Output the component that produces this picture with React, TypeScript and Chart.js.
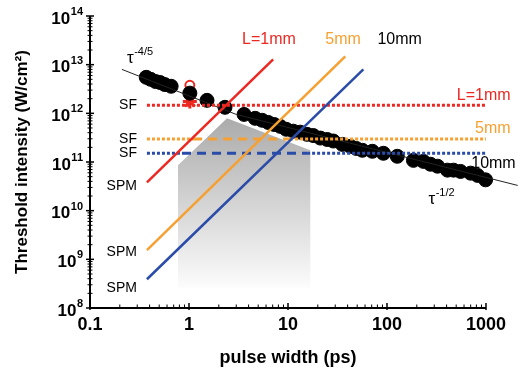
import React, { useEffect, useRef } from 'react';
import { Chart, registerables } from 'chart.js';

Chart.register(...registerables);

// ---- data ----
const pulseWidth = [0.37, 0.41, 0.46, 0.51, 0.57, 0.66, 1.02, 1.52, 2.31, 3.6, 4.66, 5.48, 6.31, 7.25, 8.34, 9.6, 11.3, 13.3, 15.6, 18.0, 21.2, 24.9, 28.7, 35.4, 42.6, 49.0, 56.4, 71.1, 92.0, 127, 185, 233, 275, 324, 408, 470, 553, 698, 822, 990];
const threshold = [5.5e12, 5.0e12, 4.5e12, 4.3e12, 3.9e12, 3.6e12, 2.6e12, 1.85e12, 1.33e12, 9.5e11, 7.9e11, 7.2e11, 6.5e11, 5.9e11, 5.4e11, 4.7e11, 4.3e11, 4.1e11, 3.7e11, 3.5e11, 3.1e11, 2.9e11, 2.7e11, 2.3e11, 2.1e11, 1.9e11, 1.74e11, 1.66e11, 1.51e11, 1.31e11, 1.08e11, 1.03e11, 9.0e10, 8.2e10, 6.8e10, 6.8e10, 6.4e10, 5.9e10, 5.3e10, 4.3e10];

const fitX = [0.21, 3, 2090];
const fitY = [8e12, 9.5e11, 3.3e10];

const spmRedX = [0.376, 7.08];
const spmRedY = [3.8e10, 1.29e13];
const spmOrangeX = [0.376, 37.9];
const spmOrangeY = [1.55e9, 1.48e13];
const spmBlueX = [0.376, 57.7];
const spmBlueY = [3.9e8, 8e12];

const sfRedX = [0.376, 1000];
const sfRedLevel = 1.46e12;
const sfOrangeX = [0.376, 1.1, 10.5, 1000];
const sfOrangeLevel = 2.96e11;
const sfBlueX = [0.376, 0.85, 15.6, 1000];
const sfBlueLevel = 1.52e11;

const openMarkerX = [1.02];
const openMarkerY = [3.76e12];
const starMarkerX = [1.02];
const starMarkerY = [1.75e12];

const regionX = [0.774, 0.774, 2.42, 16.8, 16.8];
const regionY = [2.6e8, 8.6e10, 7.9e11, 1.74e11, 2.6e8];

const xTickValues = [0.1, 1, 10, 100, 1000];
const yDecades = [8, 9, 10, 11, 12, 13, 14];

const RED = 'rgb(236,40,34)';
const ORANGE = 'rgb(246,160,50)';
const BLUE = 'rgb(42,76,168)';
const FONT = '"Liberation Sans", Arial, Helvetica, sans-serif';

const labels = [
  { text: 'L=1mm', x: 3.44, y: 3.3e13, color: RED, align: 'left', size: 16 },
  { text: '5mm', x: 23.8, y: 3.3e13, color: ORANGE, align: 'left', size: 16 },
  { text: '10mm', x: 80, y: 3.3e13, color: '#000', align: 'left', size: 16 },
  { text: 'L=1mm', x: 1775, y: 2.34e12, color: RED, align: 'right', size: 16 },
  { text: '5mm', x: 1775, y: 4.9e11, color: ORANGE, align: 'right', size: 16 },
  { text: '10mm', x: 1995, y: 9.4e10, color: '#000', align: 'right', size: 16 },
  { text: 'SF', x: 0.298, y: 1.46e12, color: '#000', align: 'right', size: 14 },
  { text: 'SF', x: 0.298, y: 2.96e11, color: '#000', align: 'right', size: 14 },
  { text: 'SF', x: 0.298, y: 1.52e11, color: '#000', align: 'right', size: 14 },
  { text: 'SPM', x: 0.298, y: 3.2e10, color: '#000', align: 'right', size: 14 },
  { text: 'SPM', x: 0.298, y: 1.4e9, color: '#000', align: 'right', size: 14 },
  { text: 'SPM', x: 0.298, y: 2.6e8, color: '#000', align: 'right', size: 14 },
];

const tauLabels = [
  { sup: '-4/5', x: 0.236, y: 1.1e13 },
  { sup: '-1/2', x: 262, y: 1.4e10 },
];

const pts = (xs: number[], ys: number[]) => xs.map((x, i) => ({ x, y: ys[i] }));
const level = (xs: number[], v: number) => xs.map((x) => ({ x, y: v }));

const decorPlugin = {
  id: 'decor',
  beforeDatasetsDraw(chart: any) {
    const { ctx, scales } = chart;
    const xs = scales.x, ys = scales.y;
    const p = regionX.map((v, i) => [xs.getPixelForValue(v), ys.getPixelForValue(regionY[i])]);
    const top = Math.min(...p.map((q) => q[1]));
    const bot = Math.max(...p.map((q) => q[1]));
    const g = ctx.createLinearGradient(0, top, 0, bot);
    g.addColorStop(0, '#ababab');
    g.addColorStop(1, '#fcfcfc');
    ctx.save();
    ctx.beginPath();
    p.forEach((q, i) => (i ? ctx.lineTo(q[0], q[1]) : ctx.moveTo(q[0], q[1])));
    ctx.closePath();
    ctx.fillStyle = g;
    ctx.fill();
    ctx.restore();
  },
  afterDatasetsDraw(chart: any) {
    const { ctx, chartArea, scales } = chart;
    const xs = scales.x, ys = scales.y;
    const L = chartArea.left, B = chartArea.bottom, T = chartArea.top, R = chartArea.right;
    ctx.save();
    // axes
    ctx.strokeStyle = '#000';
    ctx.lineWidth = 2;
    ctx.beginPath();
    ctx.moveTo(L, T);
    ctx.lineTo(L, B + 1);
    ctx.moveTo(L - 1, B);
    ctx.lineTo(R, B);
    ctx.stroke();
    // y ticks
    for (let d = 8; d <= 14; d++) {
      const py = ys.getPixelForValue(Math.pow(10, d));
      ctx.lineWidth = 1.5;
      ctx.beginPath();
      ctx.moveTo(L - 4, py);
      ctx.lineTo(L + 4, py);
      ctx.stroke();
      if (d < 14) {
        for (let m = 2; m <= 9; m++) {
          const q = ys.getPixelForValue(m * Math.pow(10, d));
          ctx.lineWidth = 1;
          ctx.beginPath();
          ctx.moveTo(L - 2.5, q);
          ctx.lineTo(L + 2.5, q);
          ctx.stroke();
        }
      }
    }
    // x ticks
    for (let d = -1; d <= 3; d++) {
      const px = xs.getPixelForValue(Math.pow(10, d));
      ctx.lineWidth = 1.5;
      ctx.beginPath();
      ctx.moveTo(px, B - 5);
      ctx.lineTo(px, B + 2);
      ctx.stroke();
      if (d < 3) {
        for (let m = 2; m <= 9; m++) {
          const q = xs.getPixelForValue(m * Math.pow(10, d));
          ctx.lineWidth = 1;
          ctx.beginPath();
          ctx.moveTo(q, B - 3.5);
          ctx.lineTo(q, B);
          ctx.stroke();
        }
      }
    }
    // y tick labels with superscripts
    ctx.fillStyle = '#000';
    ctx.textBaseline = 'middle';
    yDecades.forEach((d) => {
      const py = ys.getPixelForValue(Math.pow(10, d));
      ctx.font = `bold 11px ${FONT}`;
      ctx.textAlign = 'right';
      const e = String(d);
      const ew = ctx.measureText(e).width;
      ctx.fillText(e, L - 7, py - 4);
      ctx.font = `bold 17px ${FONT}`;
      ctx.fillText('10', L - 7 - ew - 0.5, py + 3);
    });
    // annotations
    labels.forEach((a) => {
      ctx.font = `${a.size}px ${FONT}`;
      ctx.fillStyle = a.color;
      ctx.textAlign = a.align;
      ctx.textBaseline = 'middle';
      ctx.fillText(a.text, xs.getPixelForValue(a.x), ys.getPixelForValue(a.y));
    });
    tauLabels.forEach((t) => {
      const px = xs.getPixelForValue(t.x);
      const py = ys.getPixelForValue(t.y);
      ctx.fillStyle = '#000';
      ctx.textAlign = 'left';
      ctx.textBaseline = 'alphabetic';
      ctx.font = `17px ${FONT}`;
      ctx.fillText('τ', px, py);
      const w = ctx.measureText('τ').width;
      ctx.font = `11px ${FONT}`;
      ctx.fillText(t.sup, px + w + 0.5, py - 8);
    });
    ctx.restore();
  },
};

export default function App() {
  const ref = useRef<HTMLCanvasElement | null>(null);
  useEffect(() => {
    if (!ref.current) return;
    const dotted = [3, 2];
    const dashed = [9, 6];
    const chart = new Chart(ref.current, {
      type: 'scatter',
      data: {
        datasets: [
          { data: pts(spmRedX, spmRedY), showLine: true, borderColor: RED, borderWidth: 2.5, pointRadius: 0 },
          { data: pts(spmOrangeX, spmOrangeY), showLine: true, borderColor: ORANGE, borderWidth: 2.5, pointRadius: 0 },
          { data: pts(spmBlueX, spmBlueY), showLine: true, borderColor: BLUE, borderWidth: 2.5, pointRadius: 0 },
          { data: level(sfRedX, sfRedLevel), showLine: true, borderColor: RED, borderWidth: 3, borderDash: dotted, pointRadius: 0 },
          {
            data: level(sfOrangeX, sfOrangeLevel), showLine: true, borderColor: ORANGE, borderWidth: 3, borderDash: dotted, pointRadius: 0,
            segment: { borderDash: (c: any) => (c.p0DataIndex === 1 ? dashed : dotted) },
          },
          {
            data: level(sfBlueX, sfBlueLevel), showLine: true, borderColor: BLUE, borderWidth: 3, borderDash: dotted, pointRadius: 0,
            segment: { borderDash: (c: any) => (c.p0DataIndex === 1 ? dashed : dotted) },
          },
          { data: pts(fitX, fitY), showLine: true, borderColor: '#222', borderWidth: 1, pointRadius: 0, clip: false },
          { data: pts(pulseWidth, threshold), showLine: false, pointRadius: 7, backgroundColor: '#000', borderColor: '#000', borderWidth: 1, clip: false },
          { data: pts(starMarkerX, starMarkerY), showLine: false, pointStyle: 'star', pointRadius: 7, borderColor: RED, borderWidth: 3, backgroundColor: RED },
          { data: pts(openMarkerX, openMarkerY), showLine: false, pointRadius: 4.5, borderColor: RED, borderWidth: 2, backgroundColor: '#fff' },
        ],
      } as any,
      options: {
        responsive: false,
        animation: false,
        events: [],
        layout: { padding: { top: 16, right: 42, left: 0, bottom: 0 } },
        plugins: { legend: { display: false }, tooltip: { enabled: false } },
        scales: {
          x: {
            type: 'logarithmic',
            min: 0.1,
            max: 1000,
            grid: { display: false, drawTicks: false },
            border: { display: false },
            afterFit: (s: any) => { s.height = 69; },
            ticks: {
              autoSkip: false,
              maxRotation: 0,
              padding: 6,
              color: '#000',
              font: { family: FONT, size: 18, weight: 'bold' },
              callback: (v: any) => {
                const n = Number(v);
                return xTickValues.some((t) => Math.abs(t - n) / t < 1e-6) ? String(n) : '';
              },
            },
            title: {
              display: true,
              text: 'pulse width (ps)',
              color: '#000',
              font: { family: FONT, size: 18, weight: 'bold' },
              padding: { top: 0, bottom: 8 },
            },
          },
          y: {
            type: 'logarithmic',
            min: 1e8,
            max: 1e14,
            grid: { display: false, drawTicks: false },
            border: { display: false },
            afterFit: (s: any) => { s.width = 90; },
            ticks: { display: false },
            title: {
              display: true,
              text: 'Threshold intensity (W/cm²)',
              color: '#000',
              font: { family: FONT, size: 17, weight: 'bold' },
              padding: { top: 12, bottom: 0 },
            },
          },
        },
      } as any,
      plugins: [decorPlugin as any],
    });
    return () => chart.destroy();
  }, []);
  return (
    <div style={{ position: 'absolute', left: 0, top: 0, width: 528, height: 377, background: '#fff' }}>
      <canvas ref={ref} width={528} height={377} style={{ display: 'block' }} />
    </div>
  );
}
